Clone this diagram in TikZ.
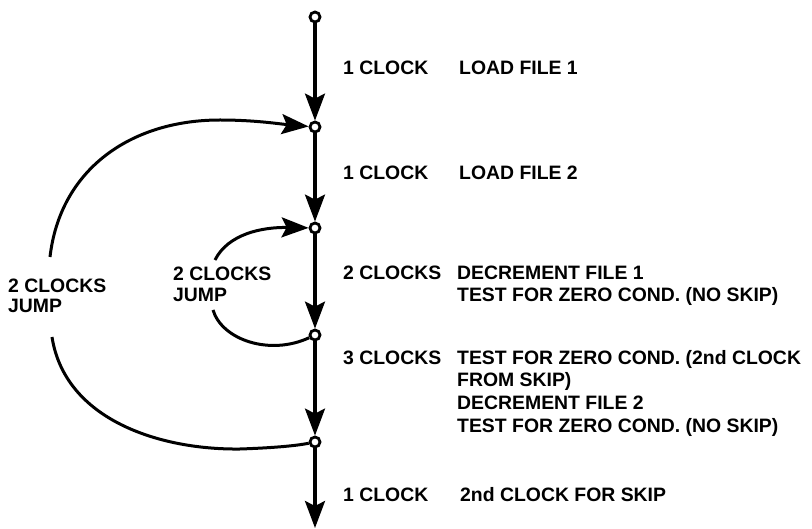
\documentclass[tikz,border=0pt]{standalone}
\usepackage{fontspec}
\setmainfont{Liberation Sans}
\usetikzlibrary{arrows.meta}
\begin{document}
\begin{tikzpicture}[x=1pt,y=-1pt,
  dot/.style={circle,draw,fill=white,line width=2.8pt,minimum size=10pt,inner sep=0pt},
  flow/.style={line width=3.2pt,-{Stealth[length=27pt,width=20pt,inset=5pt]}},
  jump/.style={line width=3pt},
  jumparrow/.style={line width=3pt,-{Stealth[length=27pt,width=20pt,inset=5pt]}},
  lbl/.style={anchor=base west,inner sep=0pt,font=\fontsize{19.4}{22}\selectfont\bfseries}]
\useasboundingbox (0,0) rectangle (812,529);
% nodes on the line
\node[dot] (c1) at (315,17) {};
\node[dot] (c2) at (315,127) {};
\node[dot] (c3) at (315,228) {};
\node[dot] (c4) at (315,335) {};
\node[dot] (c5) at (315,442) {};
\coordinate (end) at (315,528);
% vertical flow
\draw[flow] (c1) -- (c2);
\draw[flow] (c2) -- (c3);
\draw[flow] (c3) -- (c4);
\draw[flow] (c4) -- (c5);
\draw[flow] (c5) -- (end);
% outer jump
\coordinate (oa) at (50,257);
\coordinate (ob) at (52,337);
\draw[jumparrow] (oa) .. controls (60,170) and (130,120) .. (220,120) .. controls (255,120) and (280,124) .. (c2);
\draw[jump] (ob) .. controls (65,420) and (160,450) .. (240,449) .. controls (270,448) and (295,446) .. (c5);
% inner jump
\coordinate (ia) at (215,260);
\coordinate (ib) at (213,310);
\draw[jumparrow] (ia) .. controls (228,234) and (262,227) .. (c3);
\draw[jump] (ib) .. controls (222,340) and (270,356) .. (c4);
% labels
\node[lbl] (t1a) at (343,75) {1 CLOCK};
\node[lbl] (t1b) at (459,75) {LOAD FILE 1};
\node[lbl] (t2a) at (343,180) {1 CLOCK};
\node[lbl] (t2b) at (459,180) {LOAD FILE 2};
\node[lbl] (t3a) at (343,280) {2 CLOCKS};
\node[lbl] (t3b) at (457,280) {DECREMENT FILE 1};
\node[lbl] (t3c) at (457,302) {TEST FOR ZERO COND. (NO SKIP)};
\node[lbl] (t4a) at (343,365) {3 CLOCKS};
\node[lbl] (t4b) at (457,365) {TEST FOR ZERO COND. (2nd CLOCK};
\node[lbl] (t4c) at (457,387) {FROM SKIP)};
\node[lbl] (t4d) at (457,410) {DECREMENT FILE 2};
\node[lbl] (t4e) at (457,432) {TEST FOR ZERO COND. (NO SKIP)};
\node[lbl] (t5a) at (343,501) {1 CLOCK};
\node[lbl] (t5b) at (460,501) {2nd CLOCK FOR SKIP};
\node[lbl] (jo1) at (8,293) {2 CLOCKS};
\node[lbl] (jo2) at (8,313) {JUMP};
\node[lbl] (ji1) at (173,281) {2 CLOCKS};
\node[lbl] (ji2) at (173,302) {JUMP};
\end{tikzpicture}
\end{document}
